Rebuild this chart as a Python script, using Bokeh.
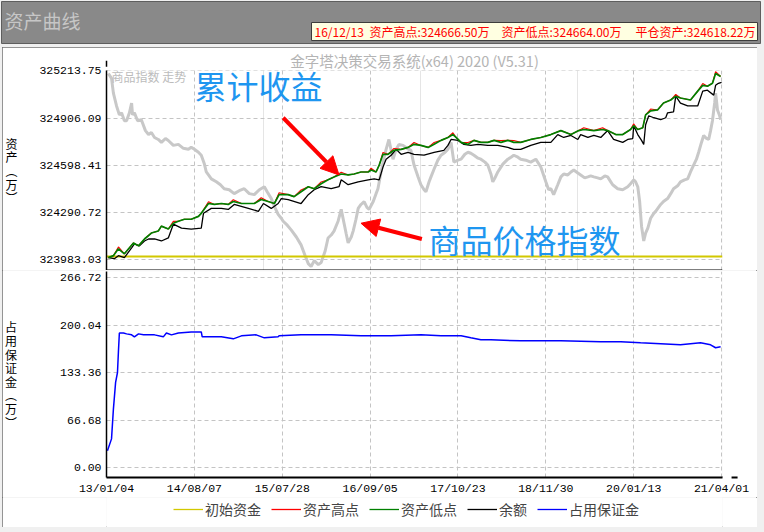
from bokeh.plotting import figure
from bokeh.layouts import column, row
from bokeh.models import (Range1d, FixedTicker, PrintfTickFormatter, Legend, LegendItem, Label,
                          Arrow, NormalHead, Span, Grid, Spacer)
from bokeh.embed import file_html
from bokeh.resources import INLINE

CJK = "Noto Sans CJK SC"
MONO = "Liberation Mono"

# ---------------- data ----------------
# x = trading-bar index, labelled with dates
DATE_TICKS = [0, 280, 560, 840, 1120, 1400, 1680, 1960]
DATE_LABELS = ["13/01/04", "14/08/07", "15/07/28", "16/09/05",
               "17/10/23", "18/11/30", "20/01/13", "21/04/01"]
EQUITY_TICKS = [323983.03, 324290.72, 324598.41, 324906.09, 325213.75]
MARGIN_TICKS = [0.00, 66.68, 133.36, 200.04, 266.72]
INITIAL_CAPITAL = 324000.0
LAST_BAR = 1963

# 资产低点 (green) and 资产高点 (red) share x
low_x = [6, 22, 38, 57, 86, 102, 121, 143, 165, 175, 197, 213, 229, 248, 270, 293, 302, 325, 344, 366,
         388, 404, 430, 452, 471, 493, 515, 535, 550, 579, 598, 620, 643, 662, 684, 706, 725, 748, 770, 789,
         811, 834, 843, 859, 869, 881, 897, 916, 939, 961, 980, 1002, 1025, 1044, 1066, 1088, 1104, 1114, 1130, 1152,
         1171, 1193, 1215, 1235, 1257, 1279, 1298, 1320, 1352, 1384, 1416, 1448, 1480, 1505, 1521, 1553, 1581, 1597, 1623, 1645,
         1670, 1680, 1693, 1709, 1718, 1734, 1756, 1775, 1798, 1814, 1829, 1861, 1884, 1900, 1915, 1931, 1941, 1957]
low_y = [323993, 324006, 324051, 324018, 324089, 324070, 324115, 324154, 324167, 324199,
         324180, 324218, 324231, 324244, 324244, 324263, 324283, 324347, 324341, 324347,
         324341, 324360, 324347, 324347, 324347, 324373, 324360, 324347, 324405, 324405,
         324392, 324424, 324457, 324444, 324476, 324502, 324521, 324540, 324534, 324540,
         324553, 324553, 324566, 324553, 324598, 324669, 324669, 324695, 324701, 324714,
         324734, 324727, 324714, 324734, 324760, 324779, 324798, 324779, 324747, 324734,
         324760, 324747, 324747, 324760, 324747, 324760, 324747, 324747, 324766, 324779,
         324798, 324824, 324798, 324824, 324831, 324824, 324831, 324824, 324798, 324798,
         324831, 324856, 324831, 324843, 324927, 324953, 324959, 325004, 325024, 325049,
         325037, 325024, 325082, 325120, 325114, 325133, 325198, 325178]
high_y = [323993, 324006, 324063, 324018, 324089, 324070, 324115, 324154, 324167, 324199,
          324180, 324230, 324231, 324244, 324244, 324263, 324283, 324359, 324341, 324347,
          324341, 324372, 324347, 324347, 324347, 324385, 324360, 324347, 324417, 324405,
          324392, 324436, 324457, 324444, 324488, 324502, 324521, 324552, 324534, 324540,
          324553, 324553, 324578, 324553, 324598, 324681, 324669, 324707, 324701, 324714,
          324746, 324727, 324714, 324746, 324760, 324779, 324810, 324779, 324747, 324746,
          324760, 324747, 324747, 324760, 324759, 324760, 324759, 324747, 324766, 324779,
          324798, 324824, 324798, 324824, 324843, 324824, 324843, 324824, 324798, 324798,
          324831, 324868, 324831, 324843, 324927, 324965, 324959, 325004, 325024, 325061,
          325037, 325024, 325082, 325132, 325114, 325133, 325210, 325178]

# 余额 (black)
bal_x = [6, 25, 38, 57, 80, 89, 105, 121, 134, 153, 175, 197, 213, 239, 270, 302, 309, 334, 366, 388,
         407, 452, 484, 500, 525, 547, 557, 579, 620, 643, 662, 684, 716, 741, 748, 770, 802, 834, 853, 869,
         881, 891, 907, 923, 939, 961, 980, 1012, 1044, 1075, 1088, 1098, 1120, 1139, 1161, 1184, 1215, 1247, 1279, 1298,
         1320, 1352, 1384, 1416, 1438, 1457, 1480, 1502, 1511, 1534, 1553, 1575, 1597, 1616, 1645, 1661, 1677, 1680, 1693, 1705,
         1712, 1718, 1728, 1744, 1766, 1782, 1788, 1807, 1814, 1829, 1852, 1884, 1900, 1915, 1935, 1941, 1950, 1960]
bal_y = [323993, 323986, 324006, 323993, 324057, 324083, 324070, 324102, 324115, 324115,
         324102, 324122, 324212, 324186, 324180, 324186, 324283, 324315, 324315, 324308,
         324341, 324315, 324296, 324347, 324315, 324347, 324379, 324373, 324347, 324405,
         324437, 324457, 324444, 324457, 324502, 324470, 324489, 324502, 324508, 324502,
         324585, 324637, 324663, 324701, 324669, 324682, 324669, 324663, 324682, 324695,
         324727, 324766, 324760, 324734, 324727, 324734, 324727, 324727, 324714, 324701,
         324701, 324727, 324747, 324747, 324798, 324779, 324792, 324766, 324798, 324779,
         324792, 324779, 324824, 324766, 324747, 324766, 324772, 324856, 324798, 324760,
         324734, 324862, 324921, 324908, 324895, 324908, 324940, 324946, 325049, 325004,
         324985, 324985, 325082, 325088, 325056, 325120, 325133, 325140]

# 商品指数 (grey, own scale)
idx_x = [6, 16, 22, 32, 41, 48, 57, 64, 73, 80, 83, 89, 99, 111, 124, 134, 143, 153, 165, 175,
         188, 197, 213, 229, 245, 261, 270, 280, 293, 302, 312, 318, 325, 334, 350, 363, 375, 391, 407, 423,
         439, 455, 471, 487, 503, 512, 525, 538, 547, 557, 563, 576, 589, 605, 620, 633, 643, 652, 662, 675,
         684, 697, 706, 716, 725, 738, 748, 757, 764, 770, 780, 786, 795, 802, 811, 821, 830, 837, 850, 859,
         865, 875, 885, 891, 900, 907, 913, 923, 932, 945, 958, 970, 980, 993, 1002, 1012, 1018, 1028, 1034, 1044,
         1056, 1066, 1079, 1088, 1098, 1107, 1120, 1130, 1142, 1152, 1161, 1171, 1184, 1193, 1206, 1215, 1225, 1231, 1238, 1247,
         1263, 1279, 1289, 1298, 1311, 1320, 1336, 1352, 1368, 1384, 1400, 1409, 1416, 1425, 1438, 1448, 1457, 1470, 1480, 1489,
         1502, 1511, 1524, 1534, 1543, 1553, 1565, 1575, 1588, 1597, 1607, 1613, 1629, 1645, 1661, 1670, 1680, 1686, 1693, 1699,
         1705, 1712, 1718, 1725, 1734, 1744, 1750, 1766, 1775, 1788, 1798, 1807, 1820, 1829, 1842, 1852, 1861, 1871, 1880, 1887,
         1896, 1903, 1912, 1919, 1925, 1931, 1938, 1941, 1944, 1947, 1954, 1957]
idx_y = [200, 195, 180, 167, 158, 160, 152, 152, 160, 170, 158, 160, 152, 153, 142, 138, 140, 135, 133, 130,
         134, 132, 127, 128, 124, 123, 125, 123, 120, 117, 108, 100, 97, 93, 90, 87, 83, 82, 78, 81,
         83, 78, 77, 82, 85, 80, 73, 63, 57, 53, 50, 46, 41, 34, 26, 15, 7, 4, 10, 6,
         8, 20, 33, 36, 40, 50, 62, 48, 37, 28, 34, 40, 52, 63, 67, 70, 64, 62, 70, 78,
         83, 100, 115, 123, 133, 122, 113, 123, 128, 127, 124, 122, 107, 95, 87, 82, 80, 90, 95, 103,
         112, 117, 120, 123, 130, 110, 112, 113, 118, 120, 119, 117, 114, 113, 110, 107, 98, 90, 94, 100,
         108, 113, 115, 117, 115, 113, 112, 110, 113, 105, 90, 82, 83, 77, 87, 95, 98, 97, 100, 102,
         99, 97, 94, 95, 96, 95, 94, 93, 96, 95, 90, 87, 83, 82, 85, 88, 92, 90, 85, 70,
         45, 30, 38, 43, 53, 58, 60, 67, 70, 73, 78, 83, 86, 90, 92, 93, 100, 107, 113, 120,
         130, 137, 134, 133, 142, 152, 170, 180, 172, 163, 157, 153]

# 占用保证金 (blue)
mrg_x = [3, 16, 22, 29, 35, 38, 41, 54, 64, 80, 89, 102, 118, 153, 181, 191, 207, 229, 270, 302,
         305, 366, 404, 430, 477, 503, 547, 550, 620, 716, 811, 907, 1002, 1066, 1130, 1161, 1193, 1225, 1320, 1448,
         1575, 1639, 1702, 1766, 1829, 1893, 1925, 1941, 1957]
mrg_y = [24.0, 40.7, 82.4, 119.9, 133.8, 162.9, 189.3, 189.3, 188.0, 186.6,
         183.8, 188.0, 186.6, 186.6, 183.8, 189.3, 186.6, 189.3, 190.7, 190.7,
         183.8, 183.8, 181.0, 185.2, 186.6, 182.4, 183.8, 185.2, 186.6, 186.6,
         185.2, 185.2, 186.6, 185.2, 185.2, 182.4, 179.6, 179.6, 178.2, 178.2,
         176.8, 176.8, 175.4, 174.1, 172.7, 175.4, 172.7, 168.5, 169.9]

C_INIT, C_HIGH, C_LOW, C_BAL, C_MRG = "#d2c800", "#ff0000", "#008000", "#000000", "#0000ff"
GRID_C = "#c4c4c4"

# ---------------- header ----------------
ph = figure(width=764, height=47, x_range=Range1d(0, 759), y_range=Range1d(0, 42), title=None,
            x_axis_location=None, y_axis_location=None, toolbar_location=None, output_backend="svg",
            min_border_left=1, min_border_right=4, min_border_top=1, min_border_bottom=4,
            background_fill_color="#898989", border_fill_color="#f0f0f0", outline_line_color="#5e5e5e")
ph.grid.visible = False
ph.quad(left=[310], right=[756], bottom=[3], top=[21], fill_color="#ffffe1", line_color="#3c3c3c")
ph.add_layout(Label(x=3, y=23.5, text="资产曲线", text_font=CJK, text_font_size="19px",
                    text_color="#c6c6c6", text_baseline="middle"))
for xx, tt in [(313, "16/12/13"), (368, "资产高点:324666.50万"),
               (500, "资产低点:324664.00万"), (634, "平仓资产:324618.22万")]:
    ph.add_layout(Label(x=xx, y=12, text=tt, text_font=CJK, text_font_size="12px",
                        text_color="#ff0000", text_baseline="middle"))

common = dict(width=755, toolbar_location=None, output_backend="svg",
              min_border_left=103, min_border_right=35,
              background_fill_color="white", border_fill_color="white", outline_line_color=None)

# ---------------- upper: equity ----------------
p1 = figure(height=223, x_range=Range1d(0, LAST_BAR), y_range=Range1d(323908.93, 325216.97),
            x_axis_location=None, min_border_top=20, min_border_bottom=0,
            title="金字塔决策交易系统(x64) 2020 (V5.31)", **common)
p1.title.align = "center"
p1.title.offset = 6
p1.title.standoff = 0
p1.title.text_font = CJK
p1.title.text_font_size = "14.5px"
p1.title.text_font_style = "normal"
p1.title.text_color = "#b4b4b4"
p1.extra_y_ranges = {"commodity": Range1d(0, 203)}
p1.add_layout(Grid(dimension=0, ticker=FixedTicker(ticks=DATE_TICKS), grid_line_color=GRID_C,
                   grid_line_dash="4 3"))
p1.yaxis.ticker = FixedTicker(ticks=EQUITY_TICKS)
p1.yaxis.formatter = PrintfTickFormatter(format="%.2f")
p1.yaxis.axis_label = "资\n产\n︵\n万\n︶"
p1.yaxis.axis_label_standoff = 19
p1.ygrid.grid_line_color = GRID_C
p1.ygrid.grid_line_dash = "4 3"

p1.line(idx_x, idx_y, y_range_name="commodity", color="#c8c8c8", line_width=3)
p1.line([0, LAST_BAR], [INITIAL_CAPITAL, INITIAL_CAPITAL], color=C_INIT, line_width=2)
p1.line(bal_x, bal_y, color=C_BAL, line_width=1.3)
p1.line(low_x, high_y, color=C_HIGH, line_width=1.1)
p1.line(low_x, low_y, color=C_LOW, line_width=1.7)

p1.add_layout(Span(location=323908.93, dimension="width", line_color="black", line_width=2))
p1.add_layout(Arrow(end=NormalHead(size=6, fill_color="black", line_color="black"),
                    x_start=0, y_start=325216.97, x_end=0, y_end=325281, line_width=1.5))
p1.add_layout(Label(x=5, y=194.5, x_units="screen", y_units="screen", text="商品指数 走势",
                    text_font=CJK, text_font_size="12px", text_color="#bcbcbc", text_baseline="middle"))
p1.add_layout(Label(x=88, y=186, x_units="screen", y_units="screen", text="累计收益",
                    text_font=CJK, text_font_size="32px", text_color="#1e96f0", text_baseline="middle"))
p1.add_layout(Label(x=322, y=32, x_units="screen", y_units="screen", text="商品价格指数",
                    text_font=CJK, text_font_size="32px", text_color="#1e96f0", text_baseline="middle"))
p1.add_layout(Arrow(end=NormalHead(size=18, fill_color="red", line_color="red"),
                    x_start=563, y_start=324908, x_end=741, y_end=324534, line_color="red", line_width=4))
p1.add_layout(Arrow(end=NormalHead(size=18, fill_color="red", line_color="red"),
                    x_start=1005, y_start=324115, x_end=811, y_end=324218, line_color="red", line_width=4))

# ---------------- lower: margin ----------------
p2 = figure(height=227, x_range=p1.x_range, y_range=Range1d(-13.47, 275.47), title=None,
            min_border_top=1, min_border_bottom=18, **common)
p2.xaxis.ticker = FixedTicker(ticks=DATE_TICKS)
p2.xaxis.major_label_overrides = {t: l for t, l in zip(DATE_TICKS, DATE_LABELS)}
p2.yaxis.ticker = FixedTicker(ticks=MARGIN_TICKS)
p2.yaxis.formatter = PrintfTickFormatter(format="%.2f")
p2.yaxis.axis_label = "占\n用\n保\n证\n金\n︵\n万\n︶"
p2.yaxis.axis_label_standoff = 40
for g in (p2.xgrid, p2.ygrid):
    g.grid_line_color = GRID_C
    g.grid_line_dash = "4 3"
p2.line(mrg_x, mrg_y, color=C_MRG, line_width=1.5)
p2.add_layout(Arrow(end=NormalHead(size=6, fill_color="black", line_color="black"),
                    x_start=LAST_BAR, y_start=-13.47, x_end=2011, y_end=-13.47, line_width=2))

for p in (p1, p2):
    for ax in p.yaxis + p.xaxis:
        ax.major_tick_out = 0
        ax.major_tick_in = 0
        ax.minor_tick_out = 0
        ax.minor_tick_in = 0
        ax.axis_line_color = "black"
        ax.major_label_text_font = MONO
        ax.major_label_text_font_size = "11.5px"
        ax.major_label_text_color = "black"
    for ax in p.yaxis:
        ax.axis_line_width = 1.5
        ax.major_label_standoff = 5
        ax.axis_label_orientation = "horizontal"
        ax.axis_label_text_font = CJK
        ax.axis_label_text_font_size = "12px"
        ax.axis_label_text_font_style = "normal"
        ax.axis_label_text_line_height = 0.8
        ax.axis_label_text_color = "black"
p2.xaxis.axis_line_width = 2
p2.xaxis.major_label_standoff = 4

# ---------------- legend strip (series drawn outside its visible range, only keyed) ----------------
pl = figure(height=30, x_range=p1.x_range, y_range=Range1d(0, 1), title=None,
            x_axis_location=None, y_axis_location=None, min_border_top=0, min_border_bottom=0, **common)
pl.grid.visible = False
r_init = pl.line([0, LAST_BAR], [INITIAL_CAPITAL, INITIAL_CAPITAL], color=C_INIT, line_width=1.3)
r_high = pl.line(low_x, high_y, color=C_HIGH, line_width=1.3)
r_low = pl.line(low_x, low_y, color=C_LOW, line_width=1.3)
r_bal = pl.line(bal_x, bal_y, color=C_BAL, line_width=1.3)
r_mrg = pl.line(mrg_x, mrg_y, color=C_MRG, line_width=1.3)
legend = Legend(items=[LegendItem(label="初始资金", renderers=[r_init]),
                       LegendItem(label="资产高点", renderers=[r_high]),
                       LegendItem(label="资产低点", renderers=[r_low]),
                       LegendItem(label="余额", renderers=[r_bal]),
                       LegendItem(label="占用保证金", renderers=[r_mrg])],
                orientation="horizontal", location=(67, 8), label_text_font=CJK,
                label_text_font_size="14px", glyph_width=30, glyph_height=16, label_height=16,
                label_standoff=2, spacing=10, padding=3, margin=0, border_line_color=None,
                background_fill_alpha=0)
pl.add_layout(legend)

main = column(p1, p2, pl, styles={"outline": "1px solid #707070", "outline-offset": "-1px"})
body = row(Spacer(width=2, height=480), main, Spacer(width=7, height=480))
page = column(ph, body, Spacer(width=764, height=5), styles={"background-color": "#f0f0f0"})

open("out.html", "w").write(file_html(page, INLINE))
